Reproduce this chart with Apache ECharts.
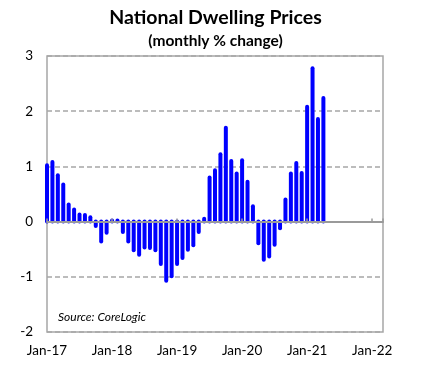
<!DOCTYPE html>
<html>
<head>
<meta charset="utf-8">
<script src="https://cdn.jsdelivr.net/npm/echarts@6/dist/echarts.min.js"></script>
<style>
html,body{margin:0;padding:0;background:#fff;}
#chart{width:431px;height:371px;}
</style>
</head>
<body>
<div id="chart"></div>
<script>
// Months from Jan-17 onward (index 0 = Jan-17)
var months = ['Jan-17','Feb-17','Mar-17','Apr-17','May-17','Jun-17','Jul-17','Aug-17','Sep-17','Oct-17','Nov-17','Dec-17',
  'Jan-18','Feb-18','Mar-18','Apr-18','May-18','Jun-18','Jul-18','Aug-18','Sep-18','Oct-18','Nov-18','Dec-18',
  'Jan-19','Feb-19','Mar-19','Apr-19','May-19','Jun-19','Jul-19','Aug-19','Sep-19','Oct-19','Nov-19','Dec-19',
  'Jan-20','Feb-20','Mar-20','Apr-20','May-20','Jun-20','Jul-20','Aug-20','Sep-20','Oct-20','Nov-20','Dec-20',
  'Jan-21','Feb-21','Mar-21','Apr-21'];
var monthlyChange = [1.02,1.08,0.84,0.67,0.31,0.22,0.13,0.12,0.08,-0.08,-0.36,-0.20,
  0.02,0.02,-0.19,-0.36,-0.52,-0.60,-0.47,-0.48,-0.52,-0.77,-1.07,-0.99,
  -0.77,-0.66,-0.51,-0.43,-0.19,0.05,0.80,0.93,1.22,1.70,1.10,0.87,
  1.11,0.72,0.28,-0.39,-0.69,-0.63,-0.42,-0.12,0.40,0.87,1.06,0.88,
  2.08,2.78,1.86,2.24];
var xTickLabels = ['Jan-17','Jan-18','Jan-19','Jan-20','Jan-21','Jan-22'];
var yTicks = [-2,-1,0,1,2,3];

var seriesData = monthlyChange.map(function(v,i){ return [i, v]; });

var chart = echarts.init(document.getElementById('chart'), null, {renderer:'canvas'});
var font = 'Lato, "Liberation Sans", sans-serif';
chart.setOption({
  animation:false,
  backgroundColor:'#ffffff',
  title:[{
    text:'National Dwelling Prices',
    left:'center', top:3,
    textStyle:{fontFamily:font, fontWeight:'bold', fontSize:19.5, color:'#000'}
  },{
    text:'(monthly % change)',
    left:'center', top:28,
    textStyle:{fontFamily:font, fontWeight:'bold', fontSize:15.5, color:'#000'}
  }],
  grid:{left:47, right:48, top:56, bottom:39, show:true, borderColor:'#a6a6a6', borderWidth:1.5, backgroundColor:'transparent'},
  xAxis:[{
    type:'value', min:0, max:62, interval:12, position:'bottom',
    axisLine:{show:false, onZero:false},
    axisTick:{show:false},
    splitLine:{show:false},
    axisLabel:{margin:12, fontFamily:font, fontSize:13.5, color:'#000', showMaxLabel:false,
      formatter:function(v){ return xTickLabels[Math.round(v/12)] || ''; }}
  },{
    type:'value', min:0, max:62, interval:12, position:'top', z:5,
    axisLine:{show:true, onZero:true, lineStyle:{color:'#9a9a9a', width:2}},
    axisTick:{show:true, inside:false, length:3, lineStyle:{color:'#9a9a9a', width:1.5}},
    axisLabel:{show:false},
    splitLine:{show:false}
  }],
  yAxis:{
    type:'value', min:yTicks[0], max:yTicks[yTicks.length-1], interval:1,
    axisLine:{show:false},
    axisTick:{show:false},
    axisLabel:{margin:14, fontFamily:font, fontSize:13.5, color:'#000'},
    splitLine:{show:true, lineStyle:{color:'#a6a6a6', width:1.5, type:[5,3]}}
  },
  graphic:[{
    type:'text', left:58, top:311,
    style:{text:'Source: CoreLogic', font:'italic 12px Lato, "Liberation Sans", sans-serif', fill:'#000'}
  }],
  series:[{
    type:'custom',
    xAxisIndex:0,
    data:seriesData,
    clip:false,
    renderItem:function(params, api){
      var x = api.value(0), v = api.value(1);
      var p0 = api.coord([x, 0]);
      var p1 = api.coord([x, v]);
      return {
        type:'line',
        shape:{x1:p0[0], y1:p0[1], x2:p1[0], y2:p1[1]},
        style:{stroke:'#0000ff', lineWidth:4, lineCap:'round'}
      };
    }
  }]
});
</script>
</body>
</html>
